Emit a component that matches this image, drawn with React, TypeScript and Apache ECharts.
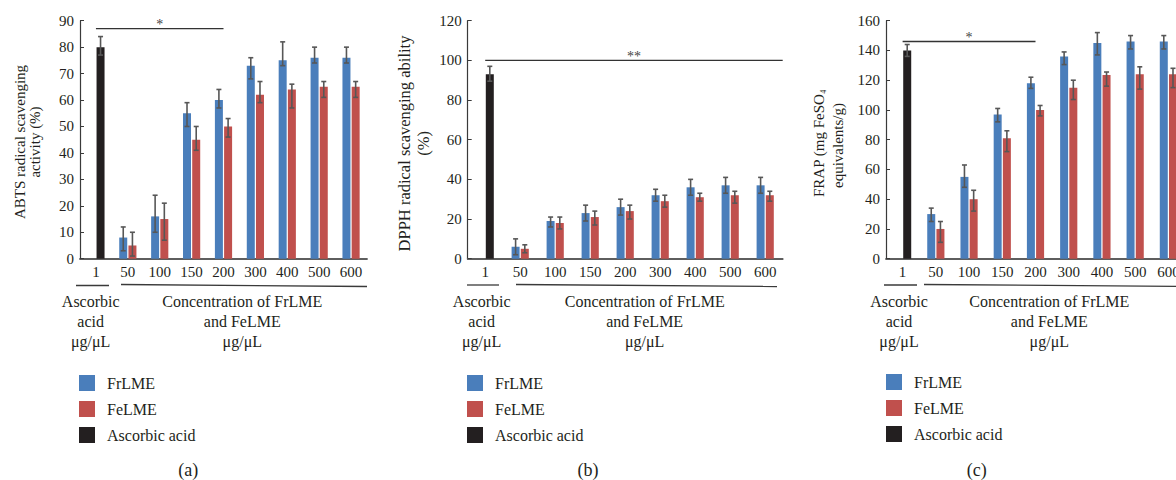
import React, { useEffect, useRef } from "react";
import * as echarts from "echarts";

// ---------------- data ----------------
const categories = ["1", "50", "100", "150", "200", "300", "400", "500", "600"];

// (a) ABTS radical scavenging activity (%)
const abtsAscorbic = [80];
const abtsAscorbicLow = [77];
const abtsAscorbicHigh = [84];
const abtsFr = [8, 16, 55, 60, 73, 75, 76, 76];
const abtsFrLow = [3, 10, 50, 57, 68, 73, 74, 74];
const abtsFrHigh = [12, 24, 59, 64, 76, 82, 80, 80];
const abtsFe = [5, 15, 45, 50, 62, 64, 65, 65];
const abtsFeLow = [1, 7, 41, 46, 59, 57, 61, 61];
const abtsFeHigh = [10, 21, 50, 53, 67, 66, 67, 67];

// (b) DPPH radical scavenging ability (%)
const dpphAscorbic = [93];
const dpphAscorbicLow = [89.5];
const dpphAscorbicHigh = [97];
const dpphFr = [6, 19, 23, 26, 32, 36, 37, 37];
const dpphFrLow = [2, 16, 19, 22, 29, 32, 33, 33];
const dpphFrHigh = [10, 21, 27, 30, 35, 40, 41, 41];
const dpphFe = [5, 18, 21, 24, 29, 31, 32, 32];
const dpphFeLow = [3, 15, 17, 20, 26, 29, 28, 29];
const dpphFeHigh = [7, 21, 24, 27, 32, 33, 34, 34];

// (c) FRAP (mg FeSO4 equivalents/g)
const frapAscorbic = [140];
const frapAscorbicLow = [136];
const frapAscorbicHigh = [144];
const frapFr = [30, 55, 97, 118, 136, 145, 146, 146];
const frapFrLow = [25, 48, 92, 114.5, 130.5, 137, 141, 141];
const frapFrHigh = [34, 63, 101, 122, 139, 152, 150, 150];
const frapFe = [20, 40, 81, 100, 115, 123.5, 124, 124];
const frapFeLow = [11, 32, 72, 96, 107, 116, 114, 115];
const frapFeHigh = [25, 46, 86, 103, 120, 125.5, 129, 128];

// y-axis ranges
const yMax = [90, 120, 160];
const yInterval = [10, 20, 20];

// significance brackets
const sigFrom = ["1", "1", "1"];
const sigTo = ["200", null, "200"];
const sigValue = [87, 100, 146];
const sigMark = ["*", "**", "*"];

const seriesNames = ["FrLME", "FeLME", "Ascorbic acid"];
const panelLabels = ["(a)", "(b)", "(c)"];

// ---------------- style ----------------
const FONT = "'Liberation Serif', 'Times New Roman', serif";
const TXT = "#231f20";
const BLUE = "#4a7ebb";
const RED = "#c0504d";
const BLACK = "#231f20";
const ERR = "#575757";
const BAR_W = 8;
const GAP_PCT = 15;
const OFF = (BAR_W + (BAR_W * GAP_PCT) / 100) / 2;

const grids = [
  { left: 80, top: 20.7, width: 287, height: 238 },
  { left: 467.7, top: 20.7, width: 315, height: 238 },
  { left: 886, top: 20.7, width: 299, height: 238 },
];

const panels = [
  {
    asc: abtsAscorbic, ascLow: abtsAscorbicLow, ascHigh: abtsAscorbicHigh,
    fr: abtsFr, frLow: abtsFrLow, frHigh: abtsFrHigh,
    fe: abtsFe, feLow: abtsFeLow, feHigh: abtsFeHigh,
  },
  {
    asc: dpphAscorbic, ascLow: dpphAscorbicLow, ascHigh: dpphAscorbicHigh,
    fr: dpphFr, frLow: dpphFrLow, frHigh: dpphFrHigh,
    fe: dpphFe, feLow: dpphFeLow, feHigh: dpphFeHigh,
  },
  {
    asc: frapAscorbic, ascLow: frapAscorbicLow, ascHigh: frapAscorbicHigh,
    fr: frapFr, frLow: frapFrLow, frHigh: frapFrHigh,
    fe: frapFe, feLow: frapFeLow, feHigh: frapFeHigh,
  },
];

function buildOption() {
  const xAxis: any[] = [];
  const yAxis: any[] = [];
  const series: any[] = [];
  const legend: any[] = [];
  const graphic: any[] = [];

  panels.forEach((p, i) => {
    xAxis.push({
      type: "category",
      gridIndex: i,
      data: categories,
      axisLine: { show: true, lineStyle: { color: "#5e5e5e", width: 1.8 } },
      axisTick: { show: false },
      axisLabel: { fontFamily: FONT, fontSize: 15, color: TXT, margin: 6, interval: 0 },
    });
    yAxis.push({
      type: "value",
      gridIndex: i,
      min: 0,
      max: yMax[i],
      interval: yInterval[i],
      axisLine: { show: true, lineStyle: { color: "#3a3a3a", width: 1.2 } },
      axisTick: { show: true, inside: true, length: 4, lineStyle: { color: "#3a3a3a" } },
      splitLine: { show: false },
      axisLabel: { fontFamily: FONT, fontSize: 15, color: TXT, margin: 6 },
    });

    const pad = (arr: number[]) => [null, ...arr];
    const ascData = [p.asc[0], null, null, null, null, null, null, null, null];

    series.push({
      name: "FrLME", type: "bar", xAxisIndex: i, yAxisIndex: i,
      data: pad(p.fr), barWidth: BAR_W, barGap: GAP_PCT + "%",
      itemStyle: { color: BLUE }, z: 2,
    });
    series.push({
      name: "FeLME", type: "bar", xAxisIndex: i, yAxisIndex: i, stack: "slot2-" + i,
      data: pad(p.fe), barWidth: BAR_W, barGap: GAP_PCT + "%",
      itemStyle: { color: RED }, z: 2,
    });
    series.push({
      name: "Ascorbic acid", type: "bar", xAxisIndex: i, yAxisIndex: i, stack: "slot2-" + i,
      data: ascData, barWidth: BAR_W, barGap: GAP_PCT + "%",
      itemStyle: { color: BLACK }, z: 2,
    });

    const errData: number[][] = [];
    errData.push([0, p.ascLow[0], p.ascHigh[0], 1]);
    p.fr.forEach((_, k) => errData.push([k + 1, p.frLow[k], p.frHigh[k], -1]));
    p.fe.forEach((_, k) => errData.push([k + 1, p.feLow[k], p.feHigh[k], 1]));

    series.push({
      type: "custom", xAxisIndex: i, yAxisIndex: i, z: 5,
      data: errData, encode: { x: 0, y: [1, 2] }, silent: true,
      itemStyle: { color: ERR },
      renderItem: (params: any, api: any) => {
        const c = api.value(0);
        const x = api.coord([c, 0])[0] + api.value(3) * OFF;
        const y1 = api.coord([c, api.value(1)])[1];
        const y2 = api.coord([c, api.value(2)])[1];
        const st = { stroke: ERR, lineWidth: 1.6 };
        const hw = 2.5;
        return {
          type: "group",
          children: [
            { type: "line", shape: { x1: x, y1, x2: x, y2 }, style: st },
            { type: "line", shape: { x1: x - hw, y1, x2: x + hw, y2: y1 }, style: st },
            { type: "line", shape: { x1: x - hw, y1: y2, x2: x + hw, y2 }, style: st },
          ],
        };
      },
    });

    const fromIdx = categories.indexOf(sigFrom[i]);
    const toIdx = sigTo[i] === null ? -1 : categories.indexOf(sigTo[i] as string);
    const mark = sigMark[i];
    series.push({
      type: "custom", xAxisIndex: i, yAxisIndex: i, z: 6, silent: true,
      data: [[fromIdx, toIdx, sigValue[i]]],
      encode: { x: 0, y: 2 },
      itemStyle: { color: "#333" },
      renderItem: (params: any, api: any) => {
        const a = api.coord([api.value(0), api.value(2)]);
        const t = api.value(1);
        const x2 = t < 0 ? params.coordSys.x + params.coordSys.width : api.coord([t, api.value(2)])[0];
        const y = a[1];
        return {
          type: "group",
          children: [
            { type: "line", shape: { x1: a[0], y1: y, x2, y2: y }, style: { stroke: "#333", lineWidth: 1.4 } },
            {
              type: "text", x: (a[0] + x2) / 2, y: y - 4,
              style: { text: mark, fontFamily: FONT, fontSize: 14, fill: "#444", stroke: null, align: "center", verticalAlign: "middle" },
            },
          ],
        };
      },
    });
  });

  const legendPos = [
    { left: 79, top: 375 },
    { left: 467, top: 375 },
    { left: 886, top: 374 },
  ];
  legendPos.forEach((lp) => {
    legend.push({
      ...lp,
      orient: "vertical",
      padding: 0,
      data: seriesNames,
      icon: "rect",
      itemWidth: 16,
      itemHeight: 16,
      itemGap: 10,
      selectedMode: false,
      textStyle: { fontFamily: FONT, fontSize: 16, color: TXT, padding: [0, 0, 0, 7] },
    });
  });

  // bottom group annotations
  const groupLines = [
    [[76, 285.5, 109, 285.5], [121, 284.5, 367, 286.5]],
    [[467, 285, 499, 285], [516, 284.5, 777, 286.5]],
    [[884, 285, 917, 285], [924, 284.5, 1190, 286.5]],
  ];
  const groupText = [
    [90.7, 242.3],
    [481.7, 644.7],
    [899, 1049.3],
  ];
  groupLines.forEach((gl) =>
    gl.forEach((l) =>
      graphic.push({
        type: "line",
        shape: { x1: l[0], y1: l[1], x2: l[2], y2: l[3] },
        style: { stroke: "#3a3a3a", lineWidth: 1.3 },
      })
    )
  );
  groupText.forEach((gt) => {
    graphic.push({
      type: "text", x: gt[0], y: 321,
      style: { text: "Ascorbic\nacid\nμg/μL", fontFamily: FONT, fontSize: 16, lineHeight: 20, fill: TXT, align: "center", verticalAlign: "middle" },
    });
    graphic.push({
      type: "text", x: gt[1], y: 321,
      style: { text: "Concentration of FrLME\nand FeLME\nμg/μL", fontFamily: FONT, fontSize: 16, lineHeight: 20, fill: TXT, align: "center", verticalAlign: "middle" },
    });
  });

  // captions
  const capPos = [[188.3, 469.5], [588, 469.5], [976.7, 470]];
  capPos.forEach((c, i) =>
    graphic.push({
      type: "text", x: c[0], y: c[1],
      style: { text: panelLabels[i], fontFamily: FONT, fontSize: 18, fill: TXT, align: "center", verticalAlign: "middle" },
    })
  );

  // y-axis titles
  graphic.push({
    type: "text", x: 27, y: 142, rotation: Math.PI / 2,
    style: { text: "ABTS radical scavenging\nactivity (%)", fontFamily: FONT, fontSize: 15, lineHeight: 15, fill: TXT, align: "center", verticalAlign: "middle" },
  });
  graphic.push({
    type: "text", x: 413.5, y: 143.5, rotation: Math.PI / 2,
    style: { text: "DPPH radical scavenging ability\n(%)", fontFamily: FONT, fontSize: 16.5, lineHeight: 19, fill: TXT, align: "center", verticalAlign: "middle" },
  });
  graphic.push({
    type: "text", x: 818.7, y: 197, rotation: Math.PI / 2,
    style: {
      text: "{a|FRAP (mg FeSO}{s|4}",
      align: "left", verticalAlign: "middle",
      rich: {
        a: { fontFamily: FONT, fontSize: 15, lineHeight: 18, fill: TXT, color: TXT },
        s: { fontFamily: FONT, fontSize: 8, lineHeight: 8, verticalAlign: "bottom", fill: TXT, color: TXT },
      },
    },
  });
  graphic.push({
    type: "text", x: 838.3, y: 188, rotation: Math.PI / 2,
    style: { text: "equivalents/g)", fontFamily: FONT, fontSize: 15, fill: TXT, align: "left", verticalAlign: "middle" },
  });

  return {
    animation: false,
    backgroundColor: "#ffffff",
    grid: grids.map((g) => ({ ...g, containLabel: false })),
    xAxis,
    yAxis,
    legend,
    series,
    graphic,
  };
}

export default function App() {
  const ref = useRef<HTMLDivElement>(null);
  useEffect(() => {
    if (!ref.current) return;
    const chart = echarts.init(ref.current, undefined, { renderer: "svg" });
    chart.setOption(buildOption() as any);
    return () => chart.dispose();
  }, []);
  return (
    <div style={{ position: "absolute", left: 0, top: 0, width: 1176, height: 480, overflow: "hidden", background: "#fff" }}>
      <div ref={ref} style={{ width: 1200, height: 480 }} />
    </div>
  );
}
